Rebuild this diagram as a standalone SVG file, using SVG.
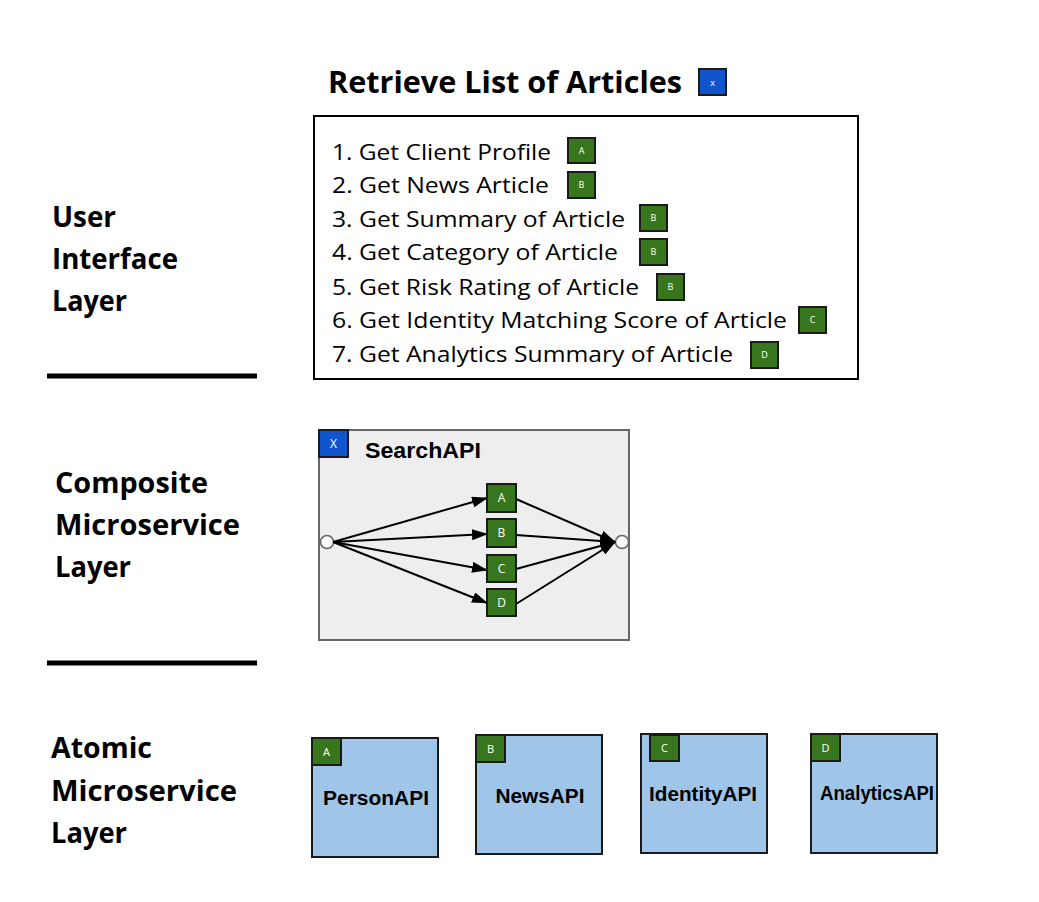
<svg xmlns="http://www.w3.org/2000/svg" width="1039" height="902" viewBox="0 0 1039 902">
<style>
.layer{font-family:"Open Sans","Noto Sans",sans-serif;font-weight:bold;font-size:28px;fill:#000}
.item{font-family:"Open Sans","Noto Sans",sans-serif;font-size:22px;fill:#000}
.title{font-family:"Open Sans","Noto Sans",sans-serif;font-weight:bold;font-size:31px;fill:#000}
.badge{fill:#38761D;stroke:#1a1a1a;stroke-width:2}
.blue{fill:#1155CC;stroke:#1a1a1a;stroke-width:2}
.bt{font-family:"Open Sans","Noto Sans",sans-serif;font-size:9px;fill:#fff;text-anchor:middle}
.bt2{font-family:"Open Sans","Noto Sans",sans-serif;font-size:12px;fill:#fff;text-anchor:middle}
.bt3{font-family:"Open Sans","Noto Sans",sans-serif;font-size:11px;fill:#fff;text-anchor:middle}
.api{fill:#9FC5E8;stroke:#1a1a1a;stroke-width:2}
.apit{font-family:"Liberation Sans",Arial,sans-serif;font-weight:bold;font-size:20px;fill:#000;text-anchor:middle}
.sep{stroke:#000;stroke-width:5}
.conn{stroke:#000;stroke-width:2;fill:none;marker-end:url(#ah)}
</style>
<defs>
<marker id="ah" viewBox="0 0 16 11" refX="15" refY="5.5" markerWidth="16" markerHeight="11" markerUnits="userSpaceOnUse" orient="auto">
<path d="M0,0 L16,5.5 L0,11 z" fill="#000"/>
</marker>
</defs>
<rect width="1039" height="902" fill="#fff"/>

<g id="layer-labels">
<text class="layer" x="52" y="227" textLength="64" lengthAdjust="spacingAndGlyphs">User</text>
<text class="layer" x="52" y="269" textLength="126" lengthAdjust="spacingAndGlyphs">Interface</text>
<text class="layer" x="52" y="311" textLength="75" lengthAdjust="spacingAndGlyphs">Layer</text>
<line class="sep" x1="47" y1="376" x2="257" y2="376"/>
<text class="layer" x="55" y="493" textLength="153" lengthAdjust="spacingAndGlyphs">Composite</text>
<text class="layer" x="55" y="535" textLength="185" lengthAdjust="spacingAndGlyphs">Microservice</text>
<text class="layer" x="55" y="577" textLength="76" lengthAdjust="spacingAndGlyphs">Layer</text>
<line class="sep" x1="47" y1="663" x2="257" y2="663"/>
<text class="layer" x="51" y="758" textLength="101" lengthAdjust="spacingAndGlyphs">Atomic</text>
<text class="layer" x="51" y="801" textLength="186" lengthAdjust="spacingAndGlyphs">Microservice</text>
<text class="layer" x="51" y="843" textLength="76" lengthAdjust="spacingAndGlyphs">Layer</text>
</g>

<g id="title">
<text class="title" x="328" y="93" textLength="354" lengthAdjust="spacingAndGlyphs">Retrieve List of Articles</text>
<rect class="blue" x="699" y="69" width="27" height="26"/>
<text class="bt" x="712.5" y="85.5">x</text>
</g>

<g id="article-list">
<rect x="314" y="116" width="544" height="263" fill="#fff" stroke="#000" stroke-width="2"/>
<text class="item" x="332" y="160" textLength="219" lengthAdjust="spacingAndGlyphs">1. Get Client Profile</text>
<text class="item" x="332" y="193" textLength="217" lengthAdjust="spacingAndGlyphs">2. Get News Article</text>
<text class="item" x="332" y="227" textLength="293" lengthAdjust="spacingAndGlyphs">3. Get Summary of Article</text>
<text class="item" x="332" y="260" textLength="286" lengthAdjust="spacingAndGlyphs">4. Get Category of Article</text>
<text class="item" x="332" y="295" textLength="307" lengthAdjust="spacingAndGlyphs">5. Get Risk Rating of Article</text>
<text class="item" x="332" y="328" textLength="455" lengthAdjust="spacingAndGlyphs">6. Get Identity Matching Score of Article</text>
<text class="item" x="332" y="362" textLength="401" lengthAdjust="spacingAndGlyphs">7. Get Analytics Summary of Article</text>
<rect class="badge" x="568" y="138" width="27" height="25"/><text class="bt" x="581.5" y="154">A</text>
<rect class="badge" x="568" y="172" width="27" height="26"/><text class="bt" x="581.5" y="188">B</text>
<rect class="badge" x="640" y="205" width="27" height="26"/><text class="bt" x="653.5" y="221">B</text>
<rect class="badge" x="640" y="239" width="27" height="26"/><text class="bt" x="653.5" y="255">B</text>
<rect class="badge" x="657" y="274" width="27" height="26"/><text class="bt" x="670.5" y="290">B</text>
<rect class="badge" x="799" y="307" width="27" height="26"/><text class="bt" x="812.5" y="323">C</text>
<rect class="badge" x="751" y="342" width="27" height="26"/><text class="bt" x="764.5" y="358">D</text>
</g>

<g id="searchapi">
<rect x="319" y="430" width="310" height="210" fill="#EEEEEE" stroke="#666" stroke-width="2"/>
<rect class="blue" x="319" y="430" width="29" height="27"/>
<text class="bt2" x="333.5" y="448">X</text>
<text x="365" y="458" font-family="Liberation Sans,Arial,sans-serif" font-weight="bold" font-size="22px" textLength="116" lengthAdjust="spacingAndGlyphs">SearchAPI</text>
<circle cx="327" cy="542" r="6.5" fill="#fff" stroke="#666" stroke-width="1.5"/>
<circle cx="622" cy="542" r="6.5" fill="#fff" stroke="#666" stroke-width="1.5"/>
</g>

<g id="connectors">
<line class="conn" x1="333" y1="542" x2="487" y2="498"/>
<line class="conn" x1="333" y1="542" x2="487" y2="534"/>
<line class="conn" x1="333" y1="542" x2="487" y2="570"/>
<line class="conn" x1="333" y1="542" x2="487" y2="603"/>
<line class="conn" x1="516" y1="499" x2="615" y2="542"/>
<line class="conn" x1="516" y1="535" x2="615" y2="542"/>
<line class="conn" x1="516" y1="569" x2="615" y2="542"/>
<line class="conn" x1="516" y1="604" x2="615" y2="542"/>
</g>

<g id="search-steps">
<rect class="badge" x="487" y="484" width="29" height="28"/><text class="bt2" x="501.5" y="502">A</text>
<rect class="badge" x="487" y="519" width="29" height="28"/><text class="bt2" x="501.5" y="537">B</text>
<rect class="badge" x="487" y="555" width="29" height="27"/><text class="bt2" x="501.5" y="573">C</text>
<rect class="badge" x="487" y="589" width="29" height="27"/><text class="bt2" x="501.5" y="607">D</text>
</g>

<g id="personapi">
<rect class="api" x="312" y="738" width="126" height="119"/>
<rect class="badge" x="312" y="738" width="29" height="27"/><text class="bt3" x="326.5" y="756">A</text>
<text class="apit" x="376" y="805" textLength="106" lengthAdjust="spacingAndGlyphs">PersonAPI</text>
</g>
<g id="newsapi">
<rect class="api" x="476" y="735" width="126" height="119"/>
<rect class="badge" x="476" y="735" width="29" height="27"/><text class="bt3" x="490.5" y="753">B</text>
<text class="apit" x="540" y="803" textLength="89" lengthAdjust="spacingAndGlyphs">NewsAPI</text>
</g>
<g id="identityapi">
<rect class="api" x="641" y="734" width="126" height="119"/>
<rect class="badge" x="650" y="735" width="29" height="26"/><text class="bt3" x="664.5" y="752">C</text>
<text class="apit" x="703" y="801" textLength="108" lengthAdjust="spacingAndGlyphs">IdentityAPI</text>
</g>
<g id="analyticsapi">
<rect class="api" x="811" y="734" width="126" height="119"/>
<rect class="badge" x="811" y="734" width="29" height="27"/><text class="bt3" x="825.5" y="752">D</text>
<text class="apit" x="877" y="800" textLength="114" lengthAdjust="spacingAndGlyphs">AnalyticsAPI</text>
</g>
</svg>
